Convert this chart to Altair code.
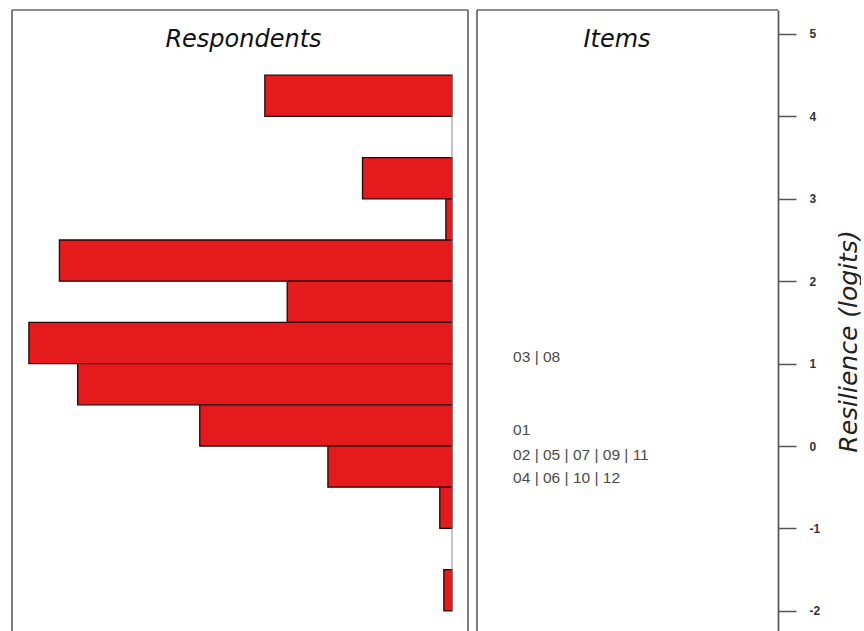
import altair as alt
import pandas as pd

# Respondent distribution (bins of 0.5 logit) - share of respondents (%)
bin_low = [4.0, 3.0, 2.5, 2.0, 1.5, 1.0, 0.5, 0.0, -0.5, -1.0, -2.0]
bin_high = [4.5, 3.5, 3.0, 2.5, 2.0, 1.5, 1.0, 0.5, 0.0, -0.5, -1.5]
share = [9.2, 4.4, 0.3, 19.3, 8.1, 20.8, 18.4, 12.4, 6.1, 0.6, 0.4]

# Item locations
item_labels = ["03 | 08", "01", "02 | 05 | 07 | 09 | 11", "04 | 06 | 10 | 12"]
item_logits = [1.08, 0.19, -0.11, -0.39]

tick_values = [-2, -1, 0, 1, 2, 3, 4, 5]

resp = pd.DataFrame({"lo": bin_low, "hi": bin_high, "share": share})
items = pd.DataFrame({"label": item_labels, "logit": item_logits})
one = alt.Data(values=[{"k": 1}])

W1, W2, H = 456, 301, 621
BORDER = "#666666"
BW = 1.7

yscale = alt.Scale(domain=[-2.245, 5.291], nice=False, zero=False)
xscale_left = alt.Scale(domain=[-0.787, 21.63], nice=False, zero=False, reverse=True)
xscale_right = alt.Scale(domain=[0, 1], nice=False, zero=False)

bars = alt.Chart(resp).mark_rect(fill="#E41A1C", stroke="#2a0505", strokeWidth=1.3).encode(
    x=alt.X("share:Q", scale=xscale_left, axis=None),
    x2=alt.datum(0),
    y=alt.Y("lo:Q", scale=yscale, axis=None),
    y2="hi:Q",
)

baseline = alt.Chart(one).mark_rule(color="#8a8a8a", strokeWidth=1).encode(
    x=alt.datum(0), y=alt.datum(-2.0), y2=alt.datum(4.5)
)

resp_title = alt.Chart(one).mark_text(
    text="Respondents", font="DejaVu Sans", fontStyle="italic", fontSize=24,
    color="#111111", baseline="middle", align="center"
).encode(x=alt.datum(10.25), y=alt.datum(4.93))

def borders(w, right=True):
    layers = [
        alt.Chart(one).mark_rule(color=BORDER, strokeWidth=BW).encode(
            x=alt.value(0), y=alt.value(0), y2=alt.value(H)),
        alt.Chart(one).mark_rule(color=BORDER, strokeWidth=BW).encode(
            x=alt.value(0), x2=alt.value(w), y=alt.value(0)),
    ]
    if right:
        layers.append(alt.Chart(one).mark_rule(color=BORDER, strokeWidth=BW).encode(
            x=alt.value(w), y=alt.value(0), y2=alt.value(H)))
    return layers

left = alt.layer(bars, baseline, resp_title, *borders(W1, True)).properties(width=W1, height=H)

item_text = alt.Chart(items).mark_text(
    font="Liberation Sans", fontSize=15.5, color="#4a4a4a", align="left", baseline="middle"
).encode(
    x=alt.X(datum=0.12, scale=xscale_right, axis=None),
    y=alt.Y("logit:Q", scale=yscale, axis=alt.Axis(
        orient="right", values=tick_values, grid=False,
        labelExpr="datum.value < 0 ? '-' + abs(datum.value) : '' + datum.value",
        tickSize=18, tickWidth=1.5, tickColor="#555555",
        domainColor="#555555", domainWidth=1.7,
        labelPadding=13, labelFont="Liberation Sans", labelFontWeight="bold",
        labelFontSize=12, labelColor="#333333", labelAlign="left",
        title="Resilience (logits)", titleFont="DejaVu Sans", titleFontStyle="italic",
        titleFontWeight="normal", titleFontSize=25, titleColor="#222222",
        titleAngle=270, titleX=70, titleY=331, titleAlign="center", titleBaseline="middle",
    )),
    text="label:N",
)

items_title = alt.Chart(one).mark_text(
    text="Items", font="DejaVu Sans", fontStyle="italic", fontSize=24,
    color="#111111", baseline="middle", align="center"
).encode(x=alt.datum(0.465), y=alt.datum(4.93))

right = alt.layer(item_text, items_title, *borders(W2, False)).properties(width=W2, height=H)

chart = alt.hconcat(left, right, spacing=7).properties(
    padding={"left": 11, "top": 9, "right": 0, "bottom": 0},
    background="white",
).configure_view(stroke=None)

chart.save("out.html", embed_options={"renderer": "svg", "actions": False})
